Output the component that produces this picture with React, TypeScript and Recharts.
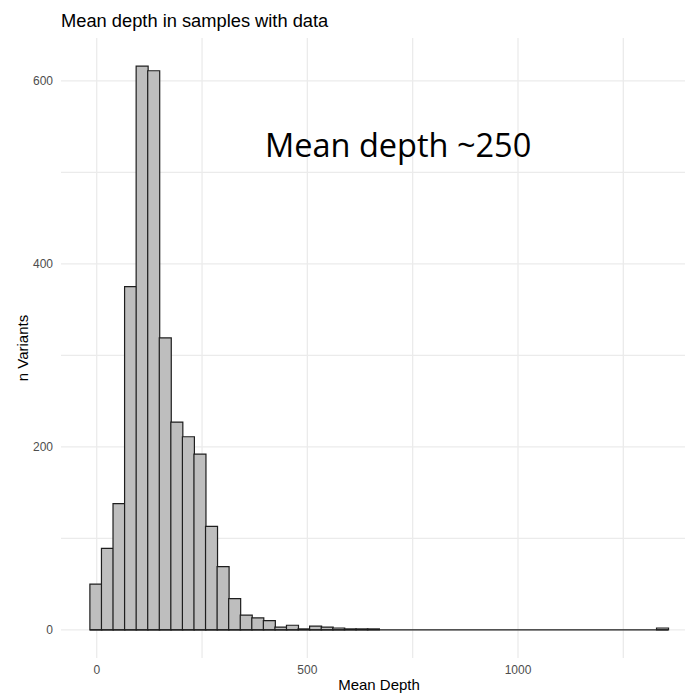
import { BarChart, Bar, XAxis, YAxis, CartesianGrid, ReferenceLine, Label } from "recharts";

// histogram bins (50 bins), counts
const binStart = -2.5;
const binWidth = 27.45;
const counts = [
  50, 89, 138, 375, 616, 611, 319, 227, 211, 192,
  113, 69, 34, 16, 13, 10, 3, 5, 1, 4,
  3, 2, 1, 1, 1, 0, 0, 0, 0, 0,
  0, 0, 0, 0, 0, 0, 0, 0, 0, 0,
  0, 0, 0, 0, 0, 0, 0, 0, 0, 2,
];

const xTicks = [0, 250, 500, 750, 1000, 1250];
const xLabelled = [0, 500, 1000];
const yTicks = [0, 100, 200, 300, 400, 500, 600];
const yLabelled = [0, 200, 400, 600];

const data = counts.map((count, i) => ({ mid: binStart + i * binWidth, count }));
const lo = data[0].mid - binWidth / 2;
const hi = data[data.length - 1].mid + binWidth / 2;

const font = "'Liberation Sans', Arial, sans-serif";
const tickStyle = { fontSize: 12, fill: "#4D4D4D", fontFamily: font };

export default function App() {
  return (
    <div style={{ position: "absolute", left: 0, top: 0, width: 685, height: 695, overflow: "hidden", background: "#fff" }}>
      <BarChart
        width={697}
        height={695}
        data={data}
        margin={{ top: 38, right: 0, bottom: 0, left: 0 }}
        barCategoryGap={0}
        barGap={0}
      >
        <CartesianGrid stroke="#EBEBEB" strokeWidth={1.3} syncWithTicks />
        <XAxis
          type="number"
          dataKey="mid"
          domain={[-84.8, 1424.9]}
          allowDataOverflow
          ticks={xTicks}
          tickFormatter={(v) => (xLabelled.includes(v) ? String(v) : "")}
          tickLine={false}
          axisLine={false}
          tickMargin={1}
          height={37}
          tick={tickStyle}
        >
          <Label value="Mean Depth" position="insideBottom" offset={5} style={{ fontSize: 15, fill: "#000", fontFamily: font }} />
        </XAxis>
        <YAxis
          type="number"
          domain={[-30.8, 646.8]}
          allowDataOverflow
          ticks={yTicks}
          tickFormatter={(v) => (yLabelled.includes(v) ? String(v) : "")}
          tickLine={false}
          axisLine={false}
          width={61}
          tick={tickStyle}
        />
        <Bar dataKey="count" fill="#BEBEBE" stroke="#1e1e1e" strokeWidth={1.2} isAnimationActive={false} />
        <ReferenceLine segment={[{ x: lo, y: 0 }, { x: hi, y: 0 }]} stroke="#1e1e1e" strokeWidth={1.2} />
      </BarChart>
      <svg width={685} height={695} style={{ position: "absolute", left: 0, top: 0, pointerEvents: "none" }}>
        <text x={61} y={27} fontSize={18.3} fontFamily={font} fill="#000">
          Mean depth in samples with data
        </text>
        <text transform="translate(28,348) rotate(-90)" textAnchor="middle" fontSize={15} fontFamily={font} fill="#000">
          n Variants
        </text>
        <text x={265} y={157} fontSize={32.5} fontFamily="'Open Sans', sans-serif" fill="#000">
          Mean depth ~250
        </text>
      </svg>
    </div>
  );
}
